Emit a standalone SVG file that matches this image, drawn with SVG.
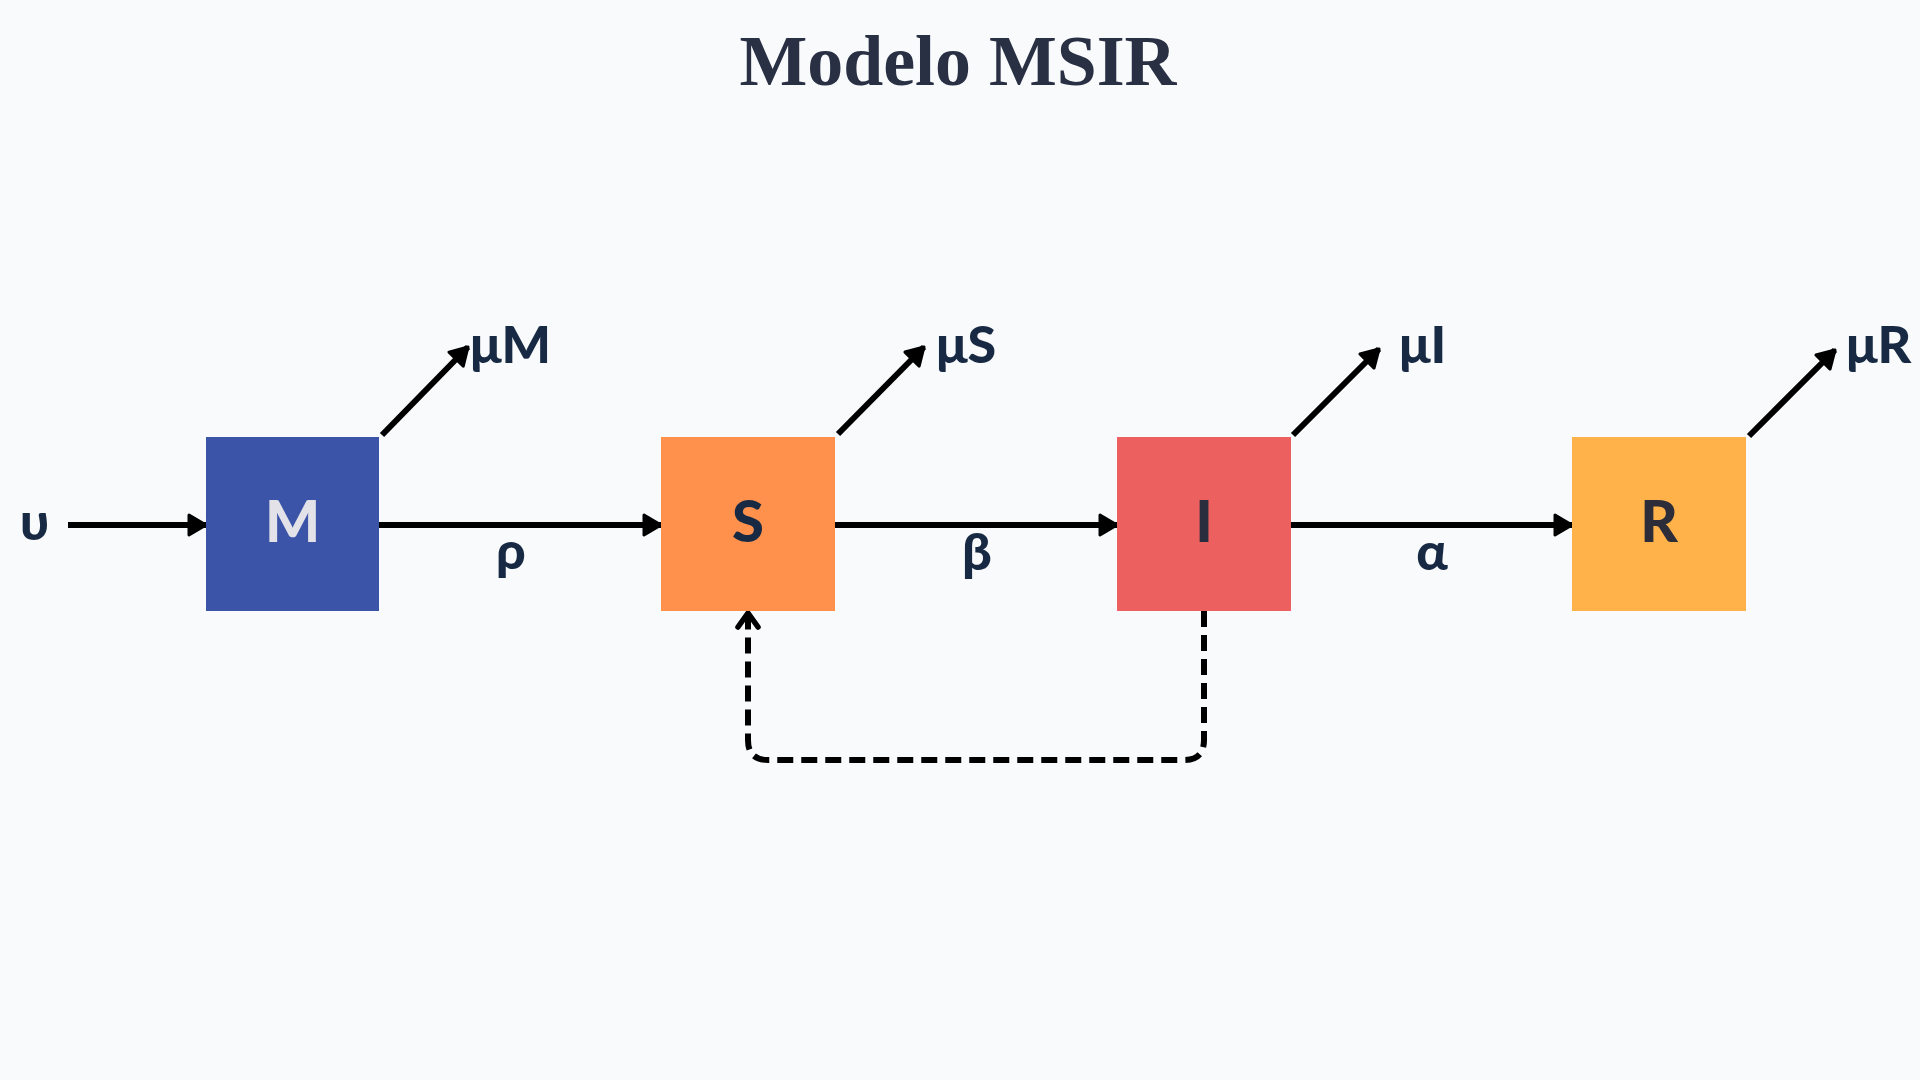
<svg xmlns="http://www.w3.org/2000/svg" width="1920" height="1080" viewBox="0 0 1920 1080">
<defs>
<style>
.lbl{font-family:Lato,"Open Sans","Liberation Sans",sans-serif;font-weight:900;fill:#182a43;font-size:52px}
.node{font-family:Lato,"Open Sans","Liberation Sans",sans-serif;font-weight:900;font-size:58px;text-anchor:middle}
.edge{stroke:#000;stroke-width:6;fill:none}
.dash{stroke:#000;stroke-width:6;fill:none;stroke-dasharray:16 8}
</style>
<marker id="ah" markerUnits="userSpaceOnUse" markerWidth="28" markerHeight="28" viewBox="0 0 28 28" refX="22" refY="14" orient="auto">
<path d="M5,4 L22,14 L5,24 Z" fill="#000" stroke="#000" stroke-width="3" stroke-linejoin="round"/>
</marker>
<marker id="oh" markerUnits="userSpaceOnUse" markerWidth="24" markerHeight="28" viewBox="0 0 24 28" refX="20" refY="14" orient="auto">
<path d="M6,4 L20,14 L6,24" fill="none" stroke="#000" stroke-width="5.5" stroke-linecap="round" stroke-linejoin="round"/>
</marker>
</defs>
<rect width="1920" height="1080" fill="#f8fafc"/>
<text x="958" y="85" font-family="'Liberation Serif','Times New Roman',serif" font-weight="700" font-size="72" fill="#2a3044" text-anchor="middle" textLength="437" lengthAdjust="spacingAndGlyphs">Modelo MSIR</text>
<g id="connectors">
<line class="edge" x1="68" y1="525" x2="206" y2="525" marker-end="url(#ah)"/>
<line class="edge" x1="378" y1="525" x2="661" y2="525" marker-end="url(#ah)"/>
<line class="edge" x1="835" y1="525" x2="1117" y2="525" marker-end="url(#ah)"/>
<line class="edge" x1="1291" y1="525" x2="1572" y2="525" marker-end="url(#ah)"/>
<line class="edge" x1="382" y1="435" x2="468" y2="347" marker-end="url(#ah)"/>
<line class="edge" x1="838" y1="434" x2="924" y2="347" marker-end="url(#ah)"/>
<line class="edge" x1="1293" y1="435" x2="1379" y2="349" marker-end="url(#ah)"/>
<line class="edge" x1="1749" y1="436" x2="1835" y2="350" marker-end="url(#ah)"/>
<path class="dash" d="M1204,611 V740 Q1204,760 1184,760 H768 Q748,760 748,740 V613" marker-end="url(#oh)"/>
<text class="lbl" x="34.5" y="540" text-anchor="middle">υ</text>
<text class="lbl" x="511" y="569" text-anchor="middle">ρ</text>
<text class="lbl" x="977" y="570" text-anchor="middle">β</text>
<text class="lbl" x="1432" y="570" text-anchor="middle">α</text>
<text class="lbl" x="470" y="363">μM</text>
<text class="lbl" x="936" y="363">μS</text>
<text class="lbl" x="1399" y="363">μI</text>
<text class="lbl" x="1846" y="363">μR</text>
</g>
<g id="node-M"><rect x="206" y="437" width="173" height="174" fill="#3c54a8"/><text class="node" x="292.5" y="542" fill="#e2e2e8">M</text></g>
<g id="node-S"><rect x="661" y="437" width="174" height="174" fill="#ff914d"/><text class="node" x="748" y="542" fill="#182a43">S</text></g>
<g id="node-I"><rect x="1117" y="437" width="174" height="174" fill="#ec6060"/><text class="node" x="1204" y="542" fill="#2a2d3e">I</text></g>
<g id="node-R"><rect x="1572" y="437" width="174" height="174" fill="#ffb14a"/><text class="node" x="1659" y="542" fill="#2d2d3a">R</text></g>
</svg>
